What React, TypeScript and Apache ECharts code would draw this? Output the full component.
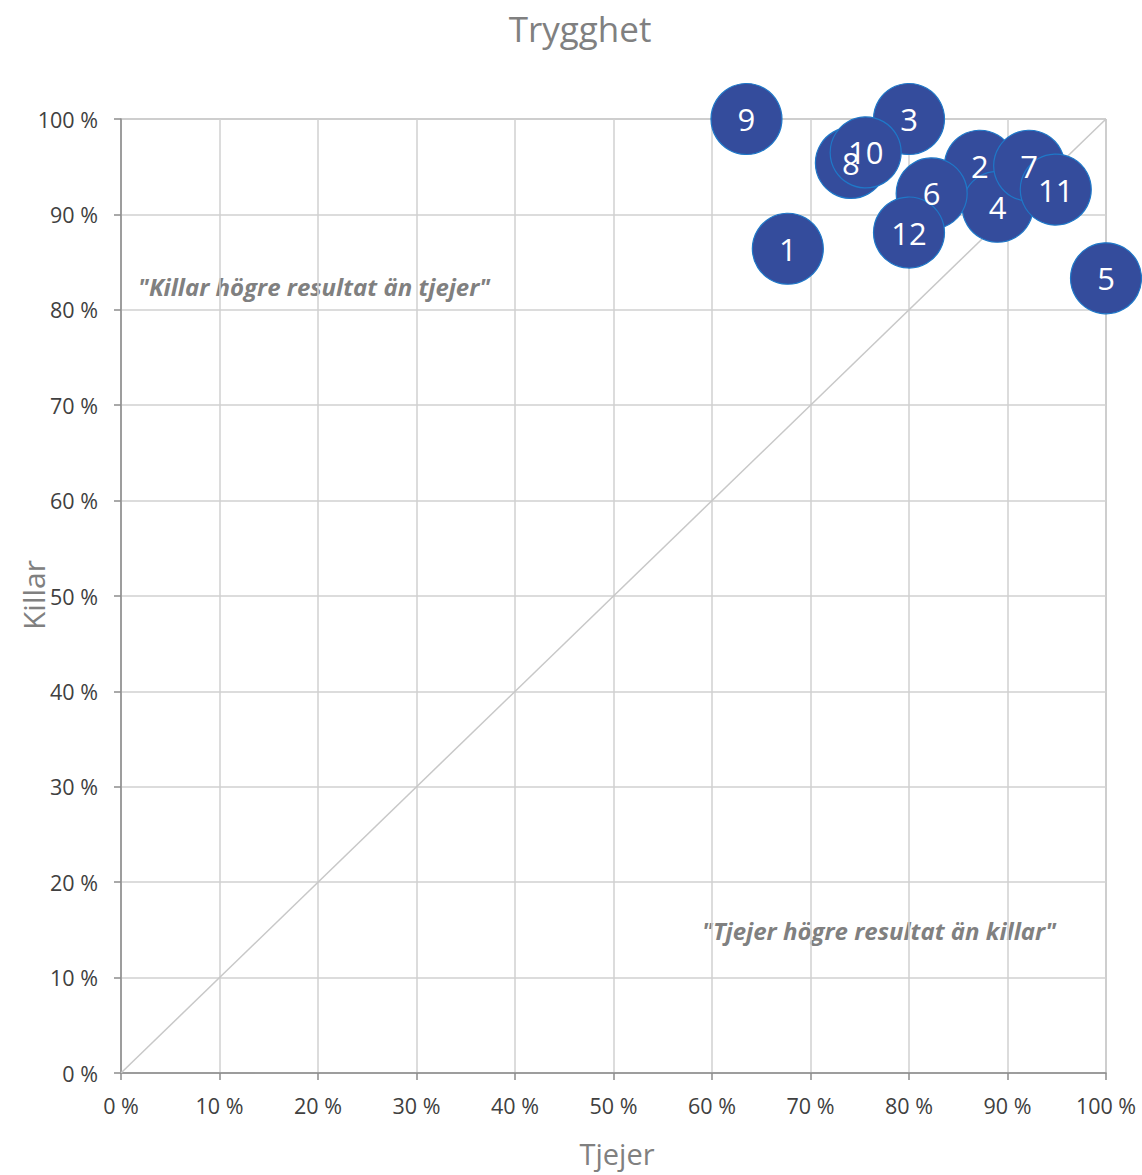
import React, { useEffect, useRef } from "react";
import * as echarts from "echarts";

const labels = ["1", "2", "3", "4", "5", "6", "7", "8", "9", "10", "11", "12"];
const tjejer = [67.7, 87.2, 80.0, 89.0, 100.0, 82.3, 92.2, 74.1, 63.5, 75.6, 94.9, 80.0];
const killar = [86.4, 95.1, 100.0, 90.8, 83.3, 92.2, 95.1, 95.4, 100.0, 96.5, 92.6, 88.1];
const diagonal = [
  [0, 0],
  [100, 100],
];

const FONT = "'Open Sans', 'Noto Sans', sans-serif";

export default function App() {
  const ref = useRef<HTMLDivElement>(null);
  useEffect(() => {
    const chart = echarts.init(ref.current!, null, { renderer: "svg" });
    const points = labels.map((l, i) => ({ name: l, value: [tjejer[i], killar[i]] }));
    chart.setOption({
      animation: false,
      backgroundColor: "#ffffff",
      grid: {
        left: 121,
        right: 36,
        top: 119,
        bottom: 102,
        show: true,
        borderColor: "#8c8c8c",
        borderWidth: 1,
      },
      xAxis: {
        type: "value",
        min: 0,
        max: 100,
        interval: 10,
        axisLine: { show: true, lineStyle: { color: "#8c8c8c", width: 1.5 } },
        axisTick: { show: true, length: 7, lineStyle: { color: "#8c8c8c", width: 1.5 } },
        splitLine: { show: true, lineStyle: { color: "#d0d0d0", width: 1.5 } },
        axisLabel: {
          formatter: "{value} %",
          color: "#404040",
          fontSize: 21.5,
          fontFamily: FONT,
          margin: 21,
        },
      },
      yAxis: {
        type: "value",
        min: 0,
        max: 100,
        interval: 10,
        axisLine: { show: true, lineStyle: { color: "#8c8c8c", width: 1.5 } },
        axisTick: { show: true, length: 7, lineStyle: { color: "#8c8c8c", width: 1.5 } },
        splitLine: { show: true, lineStyle: { color: "#d0d0d0", width: 1.5 } },
        axisLabel: {
          formatter: "{value} %",
          color: "#404040",
          fontSize: 21.5,
          fontFamily: FONT,
          margin: 23,
        },
      },
      graphic: [
        {
          type: "text",
          x: 580,
          y: 28,
          style: {
            text: "Trygghet",
            fill: "#808080",
            fontSize: 35,
            fontFamily: FONT,
            align: "center",
            verticalAlign: "middle",
          },
        },
        {
          type: "text",
          x: 617,
          y: 1153,
          style: {
            text: "Tjejer",
            fill: "#808080",
            fontSize: 29,
            fontFamily: FONT,
            align: "center",
            verticalAlign: "middle",
          },
        },
        {
          type: "text",
          x: 33,
          y: 595,
          rotation: Math.PI / 2,
          style: {
            text: "Killar",
            fill: "#808080",
            fontSize: 30,
            fontFamily: FONT,
            align: "center",
            verticalAlign: "middle",
          },
        },
        {
          type: "text",
          x: 138,
          y: 286,
          style: {
            text: '"Killar högre resultat än tjejer"',
            fill: "#808080",
            fontSize: 24,
            fontStyle: "italic",
            fontWeight: "bold",
            fontFamily: FONT,
            align: "left",
            verticalAlign: "middle",
          },
        },
        {
          type: "text",
          x: 702,
          y: 930,
          style: {
            text: '"Tjejer högre resultat än killar"',
            fill: "#808080",
            fontSize: 24,
            fontStyle: "italic",
            fontWeight: "bold",
            fontFamily: FONT,
            align: "left",
            verticalAlign: "middle",
          },
        },
      ],
      series: [
        {
          type: "line",
          data: diagonal,
          symbol: "none",
          silent: true,
          lineStyle: { color: "#c8c8c8", width: 1.5 },
          z: 1,
        },
        {
          type: "scatter",
          data: points,
          symbolSize: 71,
          itemStyle: { color: "#344c9c", borderColor: "#1f78c8", borderWidth: 1.2, opacity: 1 },
          label: {
            show: true,
            position: "inside",
            formatter: (p: any) => p.name,
            color: "#ffffff",
            fontSize: 31,
            fontFamily: FONT,
          },
          z: 3,
        },
      ],
    });
    return () => chart.dispose();
  }, []);
  return (
    <div
      ref={ref}
      style={{ position: "fixed", left: 0, top: 0, width: 1142, height: 1175 }}
    />
  );
}
